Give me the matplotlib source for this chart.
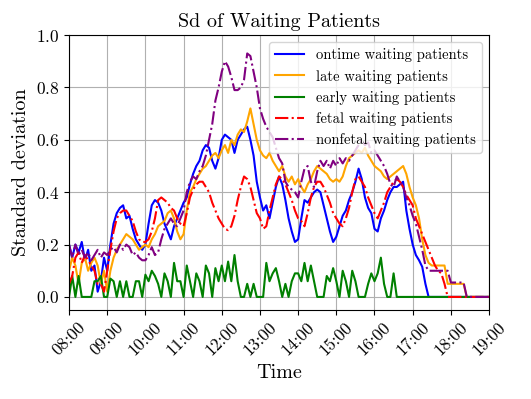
import matplotlib
matplotlib.use("Agg")
import matplotlib.pyplot as plt
import matplotlib.dates as mdates
import pandas as pd

plt.rcParams["font.family"] = "cmr10"
plt.rcParams["mathtext.fontset"] = "cm"
plt.rcParams["axes.formatter.use_mathtext"] = True
plt.rcParams["axes.unicode_minus"] = False

# 5-minute grid from 08:00 to 19:00
t = pd.date_range("2024-01-01 08:00", "2024-01-01 19:00", freq="5min")
N = len(t)


def pad(vals):
    # series are zero after the last reading
    return vals + [0.0] * (N - len(vals))


ontime = pad([
    0.2, 0.15, 0.2, 0.17, 0.21, 0.14, 0.18, 0.1, 0.12, 0.02, 0.06, 0.15,
    0.1, 0.2, 0.28, 0.32, 0.34, 0.35, 0.3, 0.31, 0.26, 0.22, 0.2, 0.18,
    0.2, 0.28, 0.35, 0.37, 0.36, 0.33, 0.28, 0.25, 0.22, 0.27, 0.3, 0.33,
    0.36, 0.38, 0.43, 0.47, 0.5, 0.52, 0.56, 0.58, 0.57, 0.52, 0.49, 0.53,
    0.6, 0.62, 0.61, 0.6, 0.55, 0.6, 0.62, 0.64, 0.65, 0.6, 0.54, 0.44,
    0.38, 0.33, 0.35, 0.3, 0.36, 0.42, 0.46, 0.43, 0.37, 0.3, 0.25, 0.21,
    0.22, 0.3, 0.37, 0.36, 0.38, 0.4, 0.41, 0.4, 0.35, 0.3, 0.25, 0.21,
    0.23, 0.27, 0.31, 0.33, 0.37, 0.4, 0.44, 0.49, 0.45, 0.38, 0.34, 0.32,
    0.26, 0.25, 0.3, 0.33, 0.37, 0.4, 0.42, 0.42, 0.43, 0.44, 0.33, 0.26,
    0.2, 0.16, 0.14, 0.115, 0.05,
])

late = pad([
    0.1, 0.15, 0.12, 0.05, 0.13, 0.15, 0.1, 0.13, 0.15, 0.12, 0.05, 0.1,
    0.02, 0.1, 0.15, 0.18, 0.2, 0.22, 0.24, 0.23, 0.22, 0.2, 0.18, 0.19,
    0.2, 0.19, 0.22, 0.24, 0.27, 0.28, 0.29, 0.32, 0.33, 0.3, 0.25, 0.22,
    0.24, 0.33, 0.4, 0.42, 0.45, 0.47, 0.49, 0.5, 0.52, 0.54, 0.55, 0.53,
    0.56, 0.58, 0.55, 0.6, 0.58, 0.62, 0.64, 0.63, 0.67, 0.72, 0.66, 0.6,
    0.56, 0.54, 0.53, 0.55, 0.52, 0.5, 0.48, 0.5, 0.46, 0.44, 0.46, 0.43,
    0.45, 0.42, 0.4, 0.43, 0.45, 0.48, 0.5, 0.49, 0.48, 0.47, 0.45, 0.44,
    0.45, 0.44, 0.46, 0.5, 0.53, 0.54, 0.55, 0.56, 0.55, 0.57, 0.54, 0.52,
    0.5, 0.49, 0.48, 0.46, 0.45, 0.46, 0.47, 0.48, 0.49, 0.5, 0.47, 0.42,
    0.38, 0.35, 0.3, 0.22, 0.16, 0.13, 0.12, 0.12, 0.12, 0.12, 0.12, 0.05,
    0.05, 0.05, 0.05, 0.05, 0.05,
])

early = pad([
    0, 0.08, 0, 0.08, 0, 0, 0, 0, 0.06, 0.06, 0.08, 0,
    0, 0.07, 0.06, 0, 0.06, 0, 0.06, 0, 0, 0.06, 0.06, 0,
    0.085, 0.06, 0.1, 0.08, 0.05, 0, 0.09, 0.06, 0, 0.13, 0.06, 0.06,
    0, 0.12, 0.06, 0, 0.09, 0.06, 0, 0.12, 0.09, 0, 0.11, 0.06,
    0.12, 0.06, 0.135, 0.06, 0.16, 0.06, 0, 0, 0.05, 0, 0.05, 0,
    0, 0, 0.13, 0.06, 0.09, 0.11, 0.06, 0, 0.05, 0, 0.06, 0.09,
    0.09, 0.06, 0.13, 0.06, 0.12, 0.06, 0, 0, 0, 0.08, 0.06, 0.11,
    0.06, 0, 0.1, 0.06, 0, 0.1, 0.06, 0, 0, 0, 0.05, 0.09,
    0.06, 0.09, 0.15, 0.05, 0, 0, 0.09,
])

fetal = pad([
    0.05, 0.08, 0.15, 0.17, 0.13, 0.16, 0.14, 0.12, 0.1, 0.05, 0.05, 0.02,
    0.1, 0.18, 0.25, 0.3, 0.32, 0.33, 0.33, 0.31, 0.29, 0.25, 0.22, 0.21,
    0.21, 0.22, 0.25, 0.3, 0.37, 0.38, 0.37, 0.36, 0.34, 0.33, 0.3, 0.28,
    0.27, 0.32, 0.38, 0.41, 0.43, 0.44, 0.44, 0.42, 0.4, 0.36, 0.33, 0.3,
    0.28, 0.26, 0.255, 0.27, 0.31, 0.37, 0.42, 0.46, 0.45, 0.42, 0.37, 0.32,
    0.3, 0.26, 0.27, 0.33, 0.38, 0.43, 0.46, 0.45, 0.43, 0.4, 0.37, 0.33,
    0.3, 0.29, 0.27, 0.32, 0.38, 0.42, 0.44, 0.44, 0.42, 0.39, 0.36, 0.32,
    0.3, 0.28, 0.27, 0.3, 0.34, 0.4, 0.45, 0.46, 0.44, 0.42, 0.38, 0.35,
    0.32, 0.3, 0.33, 0.36, 0.4, 0.42, 0.44, 0.45, 0.44, 0.42, 0.39, 0.37,
    0.35, 0.3, 0.27, 0.24, 0.21, 0.18, 0.15, 0.12, 0.1, 0.09, 0.05,
])

nonfetal = pad([
    0.2, 0.15, 0.2, 0.16, 0.18, 0.15, 0.17, 0.14, 0.16, 0.18, 0.15, 0.17,
    0.16, 0.18, 0.19, 0.17, 0.2, 0.18, 0.2, 0.19, 0.16, 0.17, 0.15, 0.14,
    0.14, 0.16, 0.19, 0.16, 0.17, 0.22, 0.26, 0.28, 0.3, 0.28, 0.27, 0.3,
    0.33, 0.4, 0.44, 0.46, 0.45, 0.48, 0.5, 0.54, 0.6, 0.66, 0.75, 0.8,
    0.86, 0.9, 0.88, 0.84, 0.79, 0.79, 0.8, 0.83, 0.93, 0.92, 0.86, 0.8,
    0.72, 0.68, 0.65, 0.63, 0.61, 0.57, 0.53, 0.51, 0.44, 0.42, 0.41, 0.4,
    0.38, 0.44, 0.49, 0.5, 0.44, 0.42, 0.48, 0.52, 0.5, 0.52, 0.49, 0.52,
    0.5, 0.53, 0.51, 0.53, 0.52, 0.54, 0.56, 0.58, 0.6, 0.58, 0.59, 0.55,
    0.56, 0.54, 0.52, 0.5, 0.47, 0.43, 0.42, 0.46, 0.44, 0.42, 0.38, 0.35,
    0.31, 0.28, 0.23, 0.18, 0.12, 0.1, 0.1, 0.1, 0.1, 0.1, 0.1, 0.1,
    0.055, 0.055, 0.055, 0.055, 0.055,
])

fig = plt.figure(figsize=(5.31, 3.99), dpi=100)
ax = fig.add_axes([0.130, 0.223, 0.791, 0.689])

ax.plot(t, ontime, color="blue", label="ontime waiting patients")
ax.plot(t, late, color="orange", label="late waiting patients")
ax.plot(t, early, color="green", label="early waiting patients")
ax.plot(t, fetal, color="red", linestyle="-.", label="fetal waiting patients")
ax.plot(t, nonfetal, color="purple", linestyle="-.", label="nonfetal waiting patients")

ax.set_xlim(t[0], t[-1])
ax.set_ylim(-0.05, 1.0)
ax.xaxis.set_major_locator(mdates.HourLocator())
ax.xaxis.set_major_formatter(mdates.DateFormatter("%H:%M"))
ax.tick_params(axis="both", labelsize=12.5)
plt.setp(ax.get_xticklabels(), rotation=45)

ax.set_title("Sd of Waiting Patients", fontsize=14.5)
ax.set_xlabel("Time", fontsize=14.5)
ax.set_ylabel("Standard deviation", fontsize=14.5)
ax.grid(True)
ax.legend(loc="upper right", fontsize=10.5)

fig.savefig("out.png", dpi=100)
